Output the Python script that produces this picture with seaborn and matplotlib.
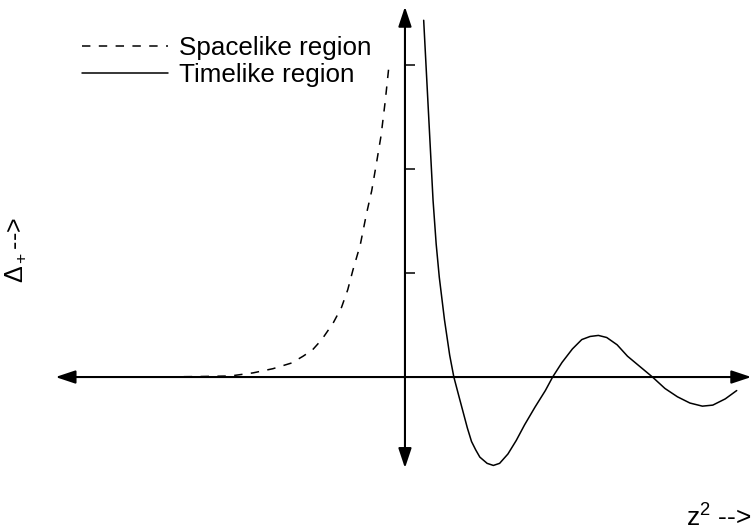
import matplotlib
matplotlib.use("Agg")
from matplotlib import pyplot as plt
import seaborn as sns

# values (z^2 along x, Delta_+ along y, arbitrary units)
space_z2 = [-2.45, -1.97, -1.68, -1.46, -1.27, -1.09, -0.98, -0.89, -0.80, -0.69,
            -0.61, -0.55, -0.50, -0.43, -0.37, -0.32, -0.27, -0.23, -0.19, -0.15]
space_delta = [0.0, 0.005, 0.01, 0.04, 0.08, 0.135, 0.20, 0.26, 0.36, 0.52,
               0.67, 0.84, 1.03, 1.27, 1.57, 1.79, 2.08, 2.32, 2.65, 3.03]

time_z2 = [0.18, 0.22, 0.27, 0.30, 0.33, 0.38, 0.43, 0.47, 0.52, 0.56, 0.60, 0.64, 0.68,
           0.72, 0.79, 0.85, 0.91, 0.99, 1.07, 1.15, 1.25, 1.35, 1.42, 1.51, 1.61, 1.70,
           1.78, 1.86, 1.94, 2.04, 2.14, 2.26, 2.38, 2.50, 2.62, 2.74, 2.86, 2.96, 3.08, 3.19]
time_delta = [3.43, 2.66, 1.70, 1.28, 0.96, 0.55, 0.21, 0.0, -0.19, -0.34, -0.49, -0.62,
              -0.70, -0.77, -0.83, -0.85, -0.83, -0.74, -0.61, -0.46, -0.29, -0.13, 0.0,
              0.14, 0.27, 0.36, 0.39, 0.40, 0.38, 0.31, 0.20, 0.10, 0.0, -0.11, -0.19,
              -0.25, -0.28, -0.27, -0.21, -0.13]

y_ticks = [1, 2, 3]
labels = ["Spacelike region", "Timelike region"]

sns.set_theme(style="white")
plt.rcParams["font.family"] = ["Liberation Sans", "DejaVu Sans"]
plt.rcParams["text.color"] = "black"
plt.rcParams["mathtext.fontset"] = "custom"
plt.rcParams["mathtext.rm"] = "Liberation Sans"
plt.rcParams["mathtext.it"] = "Liberation Sans:italic"

fig = plt.figure(figsize=(7.52, 5.32), dpi=100)
ax = fig.add_axes([0, 0, 1, 1])
ax.set_xlim(-3.894, 3.337)
ax.set_ylim(-1.49, 3.625)
ax.axis("off")

sns.lineplot(x=space_z2, y=space_delta, ax=ax, color="black", lw=1.1,
             linestyle=(0, (5.5, 5.5)), label=labels[0])
sns.lineplot(x=time_z2, y=time_delta, ax=ax, color="black", lw=1.1,
             label=labels[1])

# axes drawn as arrows through the origin
arrow = dict(arrowstyle="<|-|>,head_length=0.6,head_width=0.2", color="black",
             lw=1.5, mutation_scale=20, shrinkA=0, shrinkB=0)
ax.annotate("", xy=(-3.36, 0), xytext=(3.33, 0), arrowprops=arrow, annotation_clip=False)
ax.annotate("", xy=(0, 3.56), xytext=(0, -0.875), arrowprops=arrow, annotation_clip=False)
ax.hlines(y_ticks, 0, 0.096, color="black", lw=1.1)

ax.legend(loc="upper left", bbox_to_anchor=(82 / 752, 1 - 36 / 532),
          bbox_transform=fig.transFigure, frameon=False, fontsize=18.7,
          borderpad=0, borderaxespad=0, handlelength=3.3, handletextpad=0.45,
          labelspacing=0.1, labelcolor="black")

fig.text(16 / 752, 1 - 250 / 532, r"$\Delta_+$-->", rotation=90, ha="center",
         va="center", fontsize=18)
fig.text(751 / 752, 5 / 532, r"z$^2$ -->", ha="right", va="baseline", fontsize=19)

fig.savefig("out.png", dpi=100)
